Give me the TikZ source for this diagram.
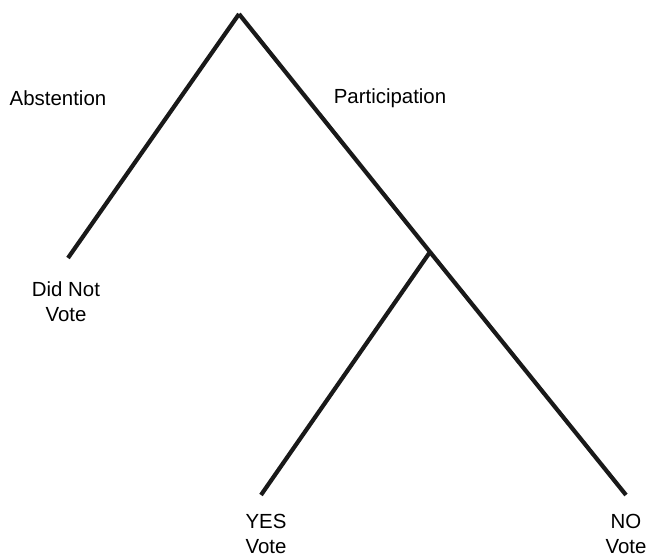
\documentclass[tikz,border=0pt]{standalone}
\usepackage{fontspec}
\setmainfont{Liberation Sans}
\tikzset{
  branch/.style={line width=4.2bp,line cap=butt,line join=miter,draw=black!90},
  lbl/.style={align=center,inner sep=0pt,font=\fontsize{20.5}{25}\selectfont},
}
\begin{document}
\begin{tikzpicture}[line join=bevel,]
  \useasboundingbox (0bp,0bp) rectangle (649bp,559bp);
%%
  % Node: Top
  \coordinate (top) at (239bp,545bp);
  % Node: Abstain
  \coordinate (abstain) at (68bp,301bp);
  % Node: Split
  \coordinate (split) at (430bp,307bp);
  % Node: Yes
  \coordinate (yes) at (261bp,64bp);
  % Node: No
  \coordinate (no) at (626bp,64bp);
  % Edge: Top -> Abstain
  \draw [branch] (top) -- (abstain);
  % Edge: Top -> Split -> No
  \draw [branch] (top) -- (split) -- (no);
  % Edge: Split -> Yes
  \draw [branch] (split) -- (yes);
  % Labels
  \node [lbl] (abstlbl) at (58bp,461bp) {Abstention};
  \node [lbl] (partlbl) at (390bp,461bp) {Participation};
  \node [lbl] (didnot) at (66bp,257bp) {Did Not\\Vote};
  \node [lbl] (yeslbl) at (266bp,25bp) {YES\\Vote};
  \node [lbl] (nolbl) at (626bp,25bp) {NO\\Vote};
%
\end{tikzpicture}
\end{document}
